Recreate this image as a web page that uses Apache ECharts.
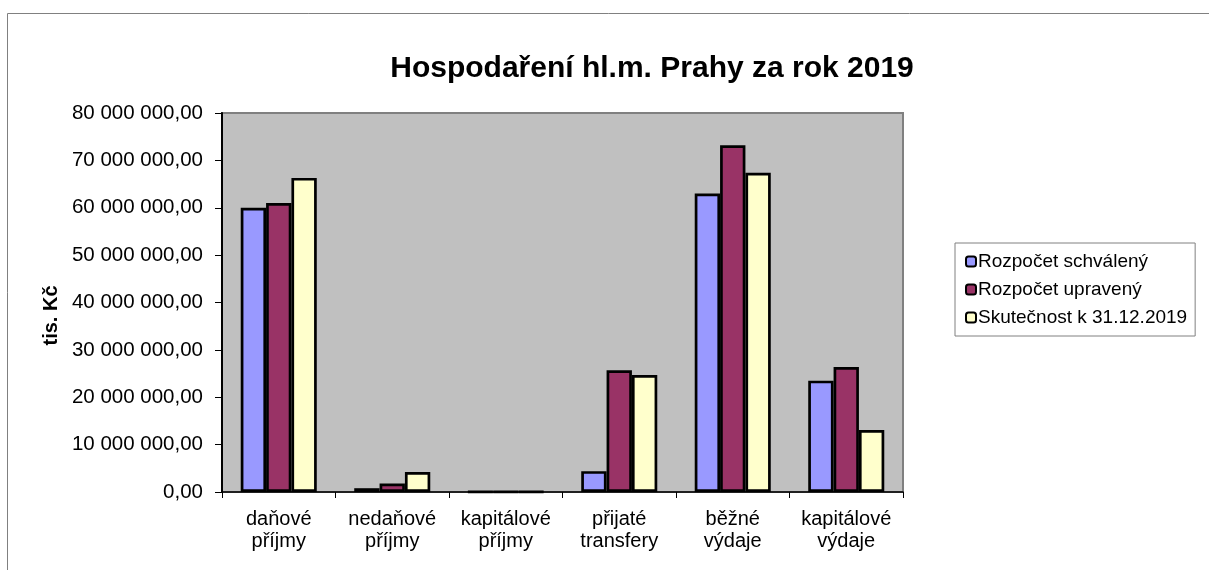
<!DOCTYPE html>
<html>
<head>
<meta charset="utf-8">
<script src="https://cdn.jsdelivr.net/npm/echarts@6/dist/echarts.min.js"></script>
<style>html,body{margin:0;padding:0;background:#fff}#c{width:1209px;height:570px}</style>
</head>
<body>
<div id="c"></div>
<script>
const categories = ['daňové\npříjmy', 'nedaňové\npříjmy', 'kapitálové\npříjmy', 'přijaté\ntransfery', 'běžné\nvýdaje', 'kapitálové\nvýdaje'];
const seriesNames = ['Rozpočet schválený', 'Rozpočet upravený', 'Skutečnost k 31.12.2019'];
const schvaleny = [60000000, 800000, 60000, 4400000, 63000000, 23500000];
const upraveny = [61000000, 1800000, 40000, 25700000, 73200000, 26400000];
const skutecnost = [66300000, 4200000, 50000, 24700000, 67400000, 13100000];
const colors = ['#9999FF', '#993366', '#FFFFCC'];
const yTicks = { min: 0, max: 80000000, interval: 10000000 };

function fmt(v) {
  const s = Math.round(v).toString().replace(/\B(?=(\d{3})+(?!\d))/g, ' ');
  return s + ',00';
}

const font = 'Liberation Sans, Arial, sans-serif';
const chart = echarts.init(document.getElementById('c'));
const data = [schvaleny, upraveny, skutecnost];
chart.setOption({
  animation: false,
  textStyle: { fontFamily: font },
  graphic: [{
    type: 'rect', left: 5, top: 11, shape: { width: 1300, height: 700 },
    style: { fill: 'none', stroke: '#808080', lineWidth: 1 }, z: -10
  }],
  title: {
    text: 'Hospodaření hl.m. Prahy za rok 2019',
    left: 647, top: 49, textAlign: 'center',
    textStyle: { fontFamily: font, fontSize: 30, fontWeight: 'bold', color: '#000' }
  },
  grid: {
    left: 222, right: 306, top: 113, bottom: 78,
    show: true, backgroundColor: '#C0C0C0', borderColor: '#808080', borderWidth: 2
  },
  legend: {
    orient: 'vertical', left: 955, top: 243,
    borderColor: '#808080', borderWidth: 1, padding: [9, 8, 9, 10],
    itemWidth: 10, itemHeight: 10, itemGap: 9,
    textStyle: { fontFamily: font, fontSize: 19, color: '#000', padding: [0, 0, 0, -3] },
    data: seriesNames
  },
  xAxis: {
    type: 'category', data: categories,
    axisLine: { lineStyle: { color: '#000', width: 1.5 } },
    axisTick: { show: true, length: 6, lineStyle: { color: '#000' } },
    axisLabel: { color: '#000', fontSize: 20, lineHeight: 22, margin: 16, interval: 0, fontFamily: font }
  },
  yAxis: {
    type: 'value', min: yTicks.min, max: yTicks.max, interval: yTicks.interval,
    name: 'tis. Kč', nameLocation: 'middle', nameGap: 156, nameRotate: 90,
    nameTextStyle: { fontFamily: font, fontSize: 20, fontWeight: 'bold', color: '#000', padding: [0, 26, 0, 0] },
    axisLine: { show: true, lineStyle: { color: '#000', width: 2 } },
    axisTick: { show: true, length: 7, lineStyle: { color: '#000' } },
    splitLine: { show: false },
    axisLabel: { color: '#000', fontSize: 20.5, margin: 19, formatter: fmt, fontFamily: font }
  },
  series: seriesNames.map((n, i) => ({
    name: n, type: 'bar', data: data[i],
    barGap: '0%', barCategoryGap: '33%',
    itemStyle: { color: colors[i], borderColor: '#000', borderWidth: 2.7 }
  }))
});
</script>
</body>
</html>
